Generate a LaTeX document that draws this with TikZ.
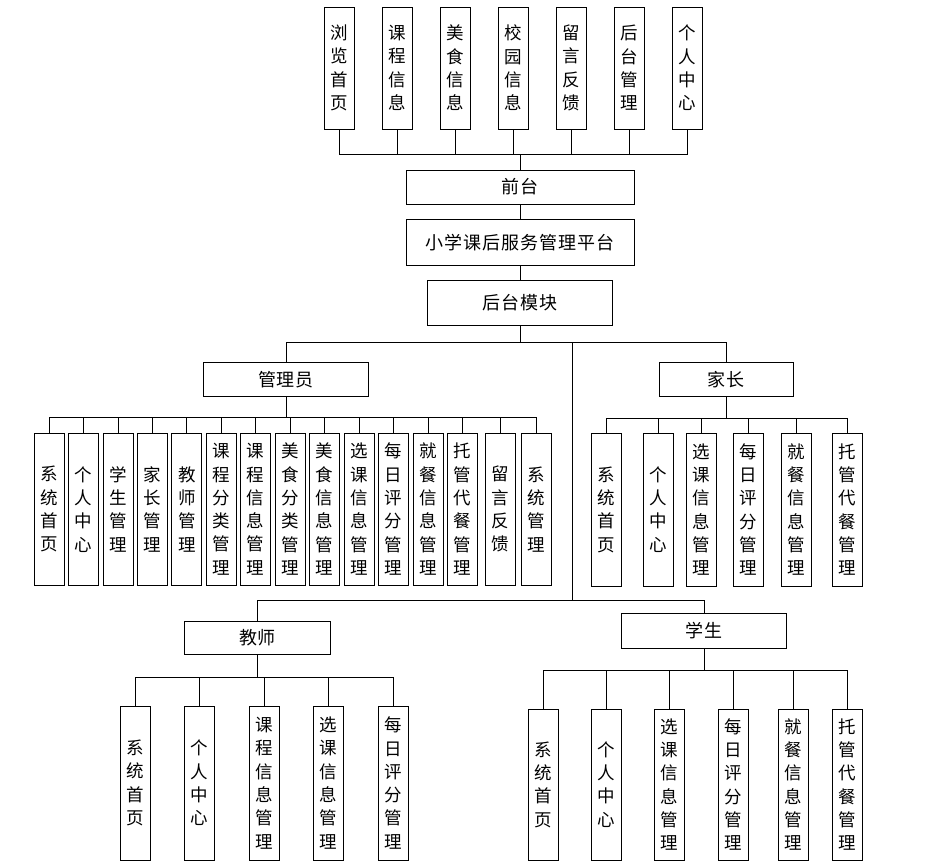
\documentclass[tikz,border=0pt]{standalone}
\usepackage{fontspec}
\newfontfamily\cjk{Noto Sans CJK SC}
\newfontfamily\cjkh[LetterSpace=5.5]{Noto Sans CJK SC}
\newcommand\mkbox[7]{%
  \node[box,#2,minimum width={(#5-#3)*1pt},minimum height={(#6-#4)*1pt}] (#1) at ({(#3+#5)/2},{(#4+#6)/2}) {#7};}
\newcommand\vb[5]{\mkbox{#1}{vtext}{#2}{#3}{#2+30}{#4}{#5}}
\begin{document}
\begin{tikzpicture}[x=1pt,y=-1pt,
  box/.style={draw=black, line width=0.8pt, inner sep=0pt, rectangle},
  vtext/.style={font=\cjk\fontsize{17.5}{23.3}\selectfont, align=center},
  htext/.style={font=\cjkh\fontsize{18}{20}\selectfont},
  link/.style={draw=black, line width=0.8pt}]
\fill[white] (0,0) rectangle (932,864);
\useasboundingbox (0,0) rectangle (932,864);

% top row
\vb{t1}{324.5}{7}{129}{浏\\览\\首\\页}
\vb{t2}{382.5}{7}{129}{课\\程\\信\\息}
\vb{t3}{440.5}{7}{129}{美\\食\\信\\息}
\vb{t4}{498.5}{7}{129}{校\\园\\信\\息}
\vb{t5}{556.5}{7}{129}{留\\言\\反\\馈}
\vb{t6}{614.5}{7}{129}{后\\台\\管\\理}
\vb{t7}{672.5}{7}{129}{个\\人\\中\\心}

% centre column
\mkbox{qt}{htext}{406}{170}{634}{204}{前台}
\mkbox{pt}{htext}{406}{219.5}{634}{265.5}{小学课后服务管理平台}
\mkbox{ht}{htext}{427.5}{280}{612.5}{325.5}{后台模块}

% roles
\mkbox{gly}{htext}{203.5}{362}{368.5}{396.5}{管理员}
\mkbox{jz}{htext}{659}{362}{793}{396.5}{家长}
\mkbox{js}{htext}{184.5}{621}{330.5}{654.5}{教师}
\mkbox{xs}{htext}{621.5}{613.5}{786.5}{648.5}{学生}

% admin children
\vb{a1}{34}{433}{585.5}{系\\统\\首\\页}
\vb{a2}{68.2}{433}{585.5}{个\\人\\中\\心}
\vb{a3}{102.9}{433}{585.5}{学\\生\\管\\理}
\vb{a4}{137.5}{433}{585.5}{家\\长\\管\\理}
\vb{a5}{171.8}{433}{585.5}{教\\师\\管\\理}
\vb{a6}{206.4}{433}{585.5}{课\\程\\分\\类\\管\\理}
\vb{a7}{240.7}{433}{585.5}{课\\程\\信\\息\\管\\理}
\vb{a8}{275}{433}{585.5}{美\\食\\分\\类\\管\\理}
\vb{a9}{309.6}{433}{585.5}{美\\食\\信\\息\\管\\理}
\vb{a10}{343.9}{433}{585.5}{选\\课\\信\\息\\管\\理}
\vb{a11}{378.2}{433}{585.5}{每\\日\\评\\分\\管\\理}
\vb{a12}{412.9}{433}{585.5}{就\\餐\\信\\息\\管\\理}
\vb{a13}{447.5}{433}{585.5}{托\\管\\代\\餐\\管\\理}
\vb{a14}{485.4}{433}{585.5}{留\\言\\反\\馈}
\vb{a15}{521.4}{433}{585.5}{系\\统\\管\\理}

% parent children
\vb{p1}{591.7}{433}{586}{系\\统\\首\\页}
\vb{p2}{643.3}{433}{586}{个\\人\\中\\心}
\vb{p3}{686}{433}{586}{选\\课\\信\\息\\管\\理}
\vb{p4}{733.3}{433}{586}{每\\日\\评\\分\\管\\理}
\vb{p5}{781}{433}{586}{就\\餐\\信\\息\\管\\理}
\vb{p6}{832.7}{433}{586}{托\\管\\代\\餐\\管\\理}

% teacher children
\vb{e1}{120}{706}{860}{系\\统\\首\\页}
\vb{e2}{184.7}{706}{860}{个\\人\\中\\心}
\vb{e3}{249}{706}{860}{课\\程\\信\\息\\管\\理}
\vb{e4}{313.7}{706}{860}{选\\课\\信\\息\\管\\理}
\vb{e5}{378.3}{706}{860}{每\\日\\评\\分\\管\\理}

% student children
\vb{s1}{528}{709}{860}{系\\统\\首\\页}
\vb{s2}{591.3}{709}{860}{个\\人\\中\\心}
\vb{s3}{654.7}{709}{860}{选\\课\\信\\息\\管\\理}
\vb{s4}{718}{709}{860}{每\\日\\评\\分\\管\\理}
\vb{s5}{778.3}{709}{860}{就\\餐\\信\\息\\管\\理}
\vb{s6}{832.3}{709}{860}{托\\管\\代\\餐\\管\\理}

% connectors
\foreach \c in {t1,t2,t3,t4,t5,t6,t7}
  \draw[link] (qt.north) -- ++(0,-15.5) -| (\c.south);
\draw[link] (qt.south) -- (pt.north);
\draw[link] (pt.south) -- (ht.north);
\draw[link] (ht.south) -- ++(0,16.5) -| (gly.north);
\draw[link] (ht.south) -- ++(0,16.5) -| (jz.north);
\coordinate (tt) at (572,342);
\coordinate (tb) at (572,600);
\draw[link] (tt) -- (tb);
\draw[link] (tb) -| (js.north);
\draw[link] (tb) -| (xs.north);
\foreach \c in {a1,a2,a3,a4,a5,a6,a7,a8,a9,a10,a11,a12,a13,a14,a15}
  \draw[link] (gly.south) -- ++(0,20.5) -| (\c.north);
\foreach \c in {p1,p2,p3,p4,p5,p6}
  \draw[link] (jz.south) -- ++(0,21) -| (\c.north);
\foreach \c in {e1,e2,e3,e4,e5}
  \draw[link] (js.south) -- ++(0,22.2) -| (\c.north);
\foreach \c in {s1,s2,s3,s4,s5,s6}
  \draw[link] (xs.south) -- ++(0,21.5) -| (\c.north);
\end{tikzpicture}
\end{document}
